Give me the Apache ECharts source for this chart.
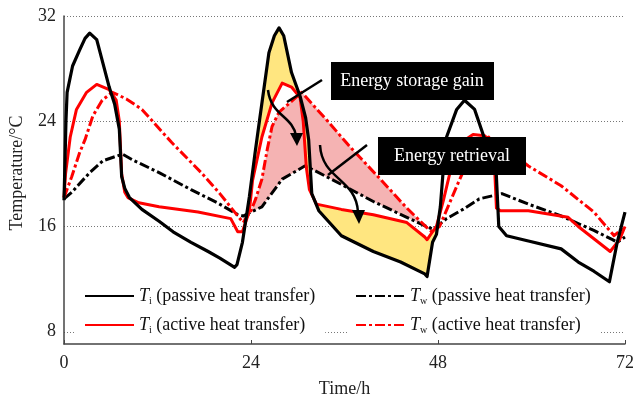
<!DOCTYPE html>
<html>
<head>
<meta charset="utf-8">
<script src="https://cdn.jsdelivr.net/npm/echarts@6/dist/echarts.min.js"></script>
<style>
  html, body { margin: 0; padding: 0; background: #fff; }
  #chart { width: 637px; height: 403px; }
</style>
</head>
<body>
<div id="chart"></div>
<script>
// [time/h, temperature/°C]
const tiPassive = [
  [0, 18.0], [0.15, 21.5], [0.25, 24.0], [0.4, 26.2], [1.1, 28.2], [2, 29.4], [2.7, 30.3], [3.3, 30.7],
  [4.2, 30.2], [5, 28.4], [5.8, 26.6], [6.5, 25.3], [7.1, 23.4], [7.4, 19.8], [7.8, 18.9], [8.4, 18.2],
  [10, 17.3], [12.2, 16.4], [14, 15.6], [16.3, 14.8], [18.5, 14.1], [20, 13.6], [21.9, 12.9], [22.2, 13.1],
  [22.9, 14.8], [23.8, 18.3], [24.5, 21.5], [25.1, 24.1], [26.3, 29.2], [27, 30.5], [27.6, 31.1], [28.2, 30.5],
  [29.2, 27.7], [30.3, 25.9], [31, 24.3], [31.4, 22.6], [31.8, 18.5], [32.7, 17.2], [35.6, 15.3], [39.7, 14.1],
  [43.2, 13.3], [46.3, 12.4], [46.6, 12.2], [47.3, 14.8], [47.8, 15.4], [48.3, 17.5], [48.7, 20.5], [49.1, 22.8],
  [50.4, 24.9], [51.4, 25.6], [52.7, 24.9], [53.9, 22.8], [55.4, 21.0], [55.8, 16.0], [56.8, 15.3], [59.6, 14.9],
  [63.8, 14.3], [66, 13.3], [68, 12.6], [70, 11.8], [71, 14.8], [72, 17.1]
];
const tiActive = [
  [0, 18.2], [0.2, 20.0], [0.8, 22.8], [1.6, 24.9], [2.9, 26.2], [4.2, 26.8], [5.8, 26.4], [6.7, 25.6],
  [7.1, 24.0], [7.4, 20.0], [7.8, 18.6], [8.2, 18.2], [9.6, 17.8], [12.2, 17.5], [17.2, 17.1], [21.4, 16.6],
  [22.3, 15.6], [22.9, 15.6], [23.8, 17.2], [24.2, 19.5], [25.4, 22.8], [26.7, 25.4], [28, 26.9], [29.2, 26.6],
  [30.3, 25.8], [30.7, 24.0], [31.1, 20.5], [31.5, 18.8], [32.4, 17.7], [35.6, 17.3], [39.7, 16.9], [44, 16.3],
  [46.3, 15.2], [46.6, 15.0], [47.3, 15.6], [47.8, 16.0], [48.7, 18.0], [49.5, 20.0], [50.5, 21.8], [51.5, 22.6],
  [52.5, 23.0], [54, 22.9], [55, 22.3], [55.3, 20.0], [55.5, 17.4], [56, 17.2], [59.6, 17.2], [64.7, 16.7],
  [66, 16.0], [70.1, 14.1], [71.3, 15.0], [72, 16.0]
];
const twPassive = [
  [0, 18.1], [1, 18.6], [3.3, 20.1], [5, 21.0], [7.5, 21.5], [9, 21.0], [12.2, 20.1], [16.3, 18.8],
  [19.7, 17.8], [22.3, 16.9], [23, 16.8], [24, 17.1], [25.4, 17.5], [28, 19.6], [30.9, 20.6], [32, 20.3],
  [35.6, 19.2], [39.7, 17.9], [44, 16.7], [46.5, 16.0], [47.4, 15.8], [49.1, 16.6], [51.2, 17.3], [53.3, 18.1],
  [56.2, 18.5], [59.6, 17.7], [63.8, 16.8], [68, 15.7], [70.4, 15.0], [71, 14.8], [72, 15.2]
];
const twActive = [
  [0, 18.2], [1, 19.8], [2, 21.6], [2.7, 22.6], [3.7, 24.4], [4.9, 25.6], [6.2, 26.2], [8, 25.7],
  [10, 24.9], [13.8, 22.4], [17.6, 20.1], [20, 18.5], [22.3, 16.8], [23, 16.3], [24, 17.2], [24.6, 18.1],
  [25.4, 19.6], [26.1, 21.9], [26.7, 23.6], [27.6, 24.7], [28.4, 25.1], [30.5, 26.2], [33.4, 24.3], [36.8, 22.0],
  [40.6, 19.6], [44, 17.4], [46.6, 15.9], [47.2, 15.6], [48.2, 16.0], [49.5, 17.8], [50.8, 19.6], [52, 21.2],
  [53.2, 22.4], [54.5, 22.8], [56, 22.3], [59.6, 20.6], [63.8, 19.1], [68, 17.1], [70.6, 15.3], [72, 16.0]
];
const seriesNames = [
  'Ti (passive heat transfer)', 'Tw (passive heat transfer)',
  'Ti (active heat transfer)', 'Tw (active heat transfer)'
];
const yTicks = [8, 16, 24, 32];
const gainSpan = [23.5, 47.8];      // yellow: Ti passive vs Ti active, day 2
const retrievalSpan = [23, 47.4];   // pink: Tw active vs Tw passive, day 2

const serif = '"Liberation Serif", "Times New Roman", serif';
const chart = echarts.init(document.getElementById('chart'));

function bandSeries(a, b, span, color) {
  const inSpan = (p) => p[0] >= span[0] && p[0] <= span[1];
  const ring = a.filter(inSpan).concat(b.filter(inSpan).reverse());
  return {
    type: 'custom',
    silent: true,
    z: 1,
    data: [ring[0]],
    renderItem: (params, api) => ({
      type: 'polygon',
      shape: { points: ring.map((p) => api.coord(p)) },
      style: { fill: color, stroke: null }
    })
  };
}

function lineSeries(name, data, color, width, dash) {
  return {
    name,
    type: 'line',
    data,
    symbol: 'none',
    z: 3,
    itemStyle: { color },
    lineStyle: { color, width, type: dash || 'solid', cap: 'butt', join: 'round' }
  };
}

const dashDot = [10, 3, 3, 3];
const legendRich = {
  it: { fontFamily: serif, fontStyle: 'italic', fontSize: 18, lineHeight: 20, color: '#111' },
  sub: { fontFamily: serif, fontSize: 10, lineHeight: 12, verticalAlign: 'bottom', color: '#111' },
  tx: { fontFamily: serif, fontSize: 18, lineHeight: 20, color: '#111' }
};
const legendFmt = (name) => {
  const m = name.match(/^T(\w) (.*)$/);
  return '{it|T}{sub|' + m[1] + '}{tx| ' + m[2] + '}';
};
const legendBase = {
  orient: 'vertical',
  top: 283,
  itemWidth: 49,
  itemHeight: 12,
  itemGap: 10,
  backgroundColor: '#fff',
  selectedMode: false,
  itemStyle: { opacity: 0 },
  formatter: legendFmt,
  textStyle: { rich: legendRich }
};

chart.setOption({
  animation: false,
  backgroundColor: '#fff',
  grid: { left: 59, right: 9, top: 16, bottom: 58 },
  xAxis: {
    type: 'value',
    min: 0,
    max: 72,
    interval: 24,
    name: 'Time/h',
    nameLocation: 'middle',
    nameGap: 36,
    nameTextStyle: { fontFamily: serif, fontSize: 18, color: '#222' },
    axisLine: { lineStyle: { color: '#444', width: 1.5 } },
    axisTick: { inside: true, length: 4, lineStyle: { color: '#444' } },
    axisLabel: { fontFamily: serif, fontSize: 18, color: '#222', margin: 10 },
    splitLine: { show: false }
  },
  yAxis: {
    type: 'value',
    min: 7.07,
    max: 32,
    name: 'Temperature/°C',
    nameLocation: 'middle',
    nameGap: 38,
    nameTextStyle: { fontFamily: serif, fontSize: 18, color: '#222', padding: [0, 0, 0, 14] },
    axisLine: { show: true, lineStyle: { color: '#444', width: 1.5 } },
    axisTick: { show: false, customValues: yTicks },
    axisLabel: { fontFamily: serif, fontSize: 18, color: '#222', margin: 8, customValues: yTicks },
    splitLine: { show: true, lineStyle: { color: '#777', width: 1, type: [1, 2] } }
  },
  legend: [
    Object.assign({}, legendBase, { left: 74, padding: [4, 10, 4, 10], data: [seriesNames[0], seriesNames[2]] }),
    Object.assign({}, legendBase, { left: 347, padding: [4, 10, 4, 8], data: [seriesNames[1], seriesNames[3]] })
  ],
  series: [
    bandSeries(twActive, twPassive, retrievalSpan, '#f5b3b3'),
    bandSeries(tiPassive, tiActive, gainSpan, '#ffe680'),
    lineSeries(seriesNames[1], twPassive, '#000', 3, dashDot),
    lineSeries(seriesNames[3], twActive, '#ff0000', 3, dashDot),
    lineSeries(seriesNames[2], tiActive, '#ff0000', 3),
    lineSeries(seriesNames[0], tiPassive, '#000', 3.2)
  ],
  graphic: [
    { type: 'line', z: 50, shape: { x1: 322, y1: 80, x2: 287, y2: 102 }, style: { stroke: '#000', lineWidth: 2.5 } },
    { type: 'bezierCurve', z: 50, shape: { x1: 268, y1: 90, cpx1: 271, cpy1: 116, cpx2: 293, cpy2: 116, x2: 296, y2: 136 },
      style: { stroke: '#000', lineWidth: 2.5, fill: null } },
    { type: 'polygon', z: 50, shape: { points: [[290, 133], [303, 133], [297, 146]] }, style: { fill: '#000' } },
    { type: 'line', z: 50, shape: { x1: 367, y1: 145, x2: 328, y2: 175 }, style: { stroke: '#000', lineWidth: 2.5 } },
    { type: 'bezierCurve', z: 50, shape: { x1: 320, y1: 145, cpx1: 322, cpy1: 180, cpx2: 356, cpy2: 178, x2: 358, y2: 212 },
      style: { stroke: '#000', lineWidth: 2.5, fill: null } },
    { type: 'polygon', z: 50, shape: { points: [[352, 210], [365, 210], [359, 224]] }, style: { fill: '#000' } },
    { type: 'rect', z: 60, shape: { x: 331, y: 62, width: 163, height: 38 }, style: { fill: '#000' } },
    { type: 'text', z: 61, x: 412, y: 81,
      style: { text: 'Energy storage gain', fill: '#fff', fontFamily: serif, fontSize: 18, align: 'center', verticalAlign: 'middle' } },
    { type: 'rect', z: 60, shape: { x: 378, y: 137, width: 148, height: 38 }, style: { fill: '#000' } },
    { type: 'text', z: 61, x: 452, y: 156,
      style: { text: 'Energy retrieval', fill: '#fff', fontFamily: serif, fontSize: 18, align: 'center', verticalAlign: 'middle' } }
  ]
});
</script>
</body>
</html>
